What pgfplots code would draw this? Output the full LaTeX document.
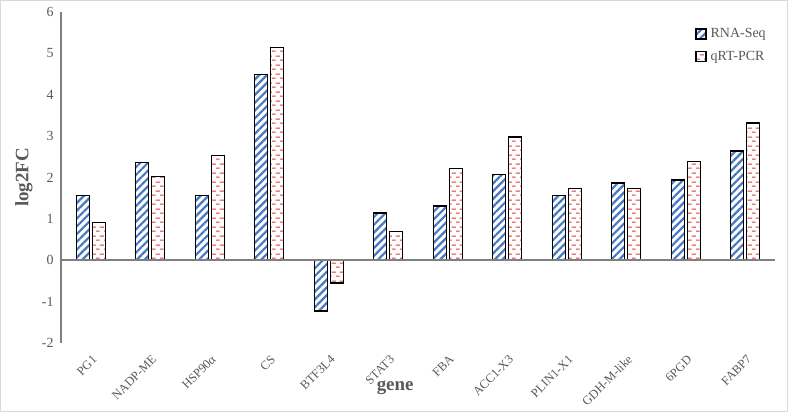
\documentclass[border=0pt]{standalone}
\usepackage{pgfplots}
\pgfplotsset{compat=1.18}
\usepackage{fontspec}
\setmainfont{Liberation Serif}
\usetikzlibrary{patterns.meta}
\definecolor{stripeblue}{RGB}{70,120,195}
\definecolor{dashred}{RGB}{228,55,55}
\definecolor{txtgray}{RGB}{89,89,89}
\definecolor{axgray}{RGB}{128,128,128}
\definecolor{framegray}{RGB}{217,217,217}

\tikzdeclarepattern{
  name=reddash,
  type=colored,
  bottom left={(0bp,0bp)},
  top right={(8bp,9bp)},
  tile size={(8bp,9bp)},
  code={
    \fill[dashred] (0.2bp,1.4bp) rectangle (4.0bp,2.6bp);
    \fill[dashred] (4.2bp,5.9bp) rectangle (8.0bp,7.1bp);
  }
}

\pgfplotstableread{
x rna qrt
0 1.57 0.91
1 2.36 2.02
2 1.57 2.54
3 4.49 5.14
4 -1.23 -0.55
5 1.14 0.69
6 1.31 2.22
7 2.08 2.98
8 1.56 1.73
9 1.87 1.73
10 1.94 2.38
11 2.64 3.32
}\datatable

\begin{document}
\begin{tikzpicture}[x=1bp,y=1bp]
\draw[framegray, line width=1bp] (0.5,0.5) rectangle (787.5,411.5);
\begin{axis}[
  at={(61bp,69bp)}, anchor=south west,
  scale only axis,
  width=714bp, height=331bp,
  xmin=-0.5, xmax=11.5,
  ymin=-2, ymax=6,
  ytick={-2,-1,0,1,2,3,4,5,6},
  xtick=data,
  xticklabels={PG1,NADP-ME,HSP90α,CS,BTF3L4,STAT3,FBA,ACC1-X3,PLIN1-X1,GDH-M-like,6PGD,FABP7},
  axis x line*=bottom,
  axis y line*=left,
  x axis line style={draw=none},
  y axis line style={draw=axgray, line width=1.8bp, -},
  major tick length=0pt,
  /pgf/number format/assume math mode=true,
  yticklabel style={font=\fontsize{14}{16}\selectfont, text=txtgray, xshift=-4bp},
  xticklabel style={font=\fontsize{12.5}{14}\selectfont, text=txtgray, rotate=45, anchor=east, yshift=-13bp, xshift=-4bp},
  ylabel={log2FC},
  ylabel style={font=\fontsize{19}{21}\selectfont\bfseries, text=txtgray, at={(axis description cs:-0.052,0.5)}, anchor=center, rotate=0},
  xlabel={gene},
  xlabel style={font=\fontsize{19}{21}\selectfont\bfseries, text=txtgray, at={(axis description cs:0.468,-0.135)}, anchor=center},
  ybar=3bp,
  bar width=13bp,
  legend style={at={(axis description cs:0.884,0.962)}, anchor=north west, draw=none, fill=none,
    font=\fontsize{14}{16}\selectfont, text=txtgray, row sep=8bp,
    nodes={inner xsep=4bp}},
  legend cell align=left,
  legend image code/.code={\draw[#1, line width=1.3bp] (0bp,-5bp) rectangle (10bp,5bp);},
  clip=false,
]
\addplot[draw=black, line width=1.3bp, pattern={Lines[angle=45,distance=5.5bp,line width=2.2bp]}, pattern color=stripeblue] table[x=x,y=rna] {\datatable};
\addplot[draw=black, line width=1.3bp, pattern=reddash] table[x=x,y=qrt] {\datatable};
\draw[axgray, line width=1.8bp] (axis cs:-0.5,0) -- (axis cs:11.5,0);
\legend{RNA-Seq,qRT-PCR}
\end{axis}
\end{tikzpicture}
\end{document}
